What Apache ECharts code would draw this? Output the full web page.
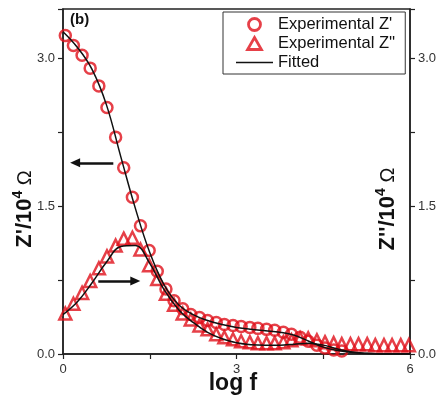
<!DOCTYPE html>
<html>
<head>
<meta charset="utf-8">
<script src="https://cdn.jsdelivr.net/npm/echarts@6/dist/echarts.min.js"></script>
<style>html,body{margin:0;padding:0;background:#fff;}#c{width:441px;height:400px;}</style>
</head>
<body>
<div id="c"></div>
<script>
// measured frequencies (log f)
const logF = [0.04,0.18,0.33,0.47,0.62,0.76,0.91,1.05,1.20,1.34,1.49,1.63,1.78,1.92,2.07,2.21,2.36,2.50,2.65,2.79,2.94,3.08,3.23,3.37,3.52,3.66,3.81,3.95,4.10,4.24,4.39,4.53,4.68,4.82,4.97,5.11,5.26,5.40,5.55,5.69,5.84,5.98];
// Experimental Z' (x10^4 ohm)
const zReal = [3.23,3.13,3.03,2.90,2.72,2.50,2.20,1.89,1.59,1.30,1.05,0.84,0.66,0.54,0.46,0.40,0.37,0.34,0.32,0.30,0.29,0.28,0.27,0.26,0.25,0.24,0.22,0.20,0.17,0.13,0.09,0.06,0.04,0.03];
// Experimental Z'' (x10^4 ohm)
const zImag = [0.41,0.51,0.62,0.74,0.87,0.99,1.10,1.17,1.18,1.06,0.90,0.76,0.61,0.50,0.41,0.35,0.29,0.25,0.20,0.17,0.15,0.13,0.12,0.11,0.11,0.11,0.12,0.14,0.16,0.16,0.14,0.12,0.11,0.10,0.10,0.10,0.10,0.09,0.09,0.09,0.09,0.09];
// fitted curves
const fitLogF = [0,0.25,0.5,0.75,1.0,1.25,1.5,1.75,2.0,2.25,2.5,2.75,3.0,3.25,3.5,3.75,4.0,4.25,4.5,4.75,5.0,5.25,5.5,5.75,6.0];
const fitReal = [3.27,3.11,2.89,2.53,2.00,1.48,1.03,0.70,0.50,0.40,0.34,0.30,0.27,0.25,0.235,0.22,0.19,0.13,0.07,0.035,0.015,0.005,0,0,0];
const fitImag = [0.40,0.53,0.72,0.93,1.09,1.10,0.92,0.65,0.45,0.32,0.22,0.155,0.115,0.095,0.09,0.09,0.10,0.11,0.09,0.05,0.02,0.008,0,0,0];
// axis ticks
const xTicks = [0,3,6];
const yTicks = [0,1.5,3.0];
// arrows (data coords): [from, to]
const arrowLeft = [[0.87,1.94],[0.21,1.94]];
const arrowRight = [[0.61,0.74],[1.25,0.74]];

const RED = '#e0101a';
const zip = (xs, ys) => ys.map((y,i)=>[xs[i], y]);
const near = (v, arr) => arr.some(t => Math.abs(t - v) < 1e-6);

const chart = echarts.init(document.getElementById('c'), null, {renderer:'canvas'});
const yAxisCommon = {
  type:'value', min:0, max:3.5, interval:0.75,
  axisLine:{show:true, lineStyle:{color:'#222', width:1.5}},
  axisTick:{show:true, inside:false, length:5, lineStyle:{color:'#222', width:1.2}},
  axisLabel:{color:'#333', fontSize:13, fontFamily:'Liberation Sans', margin:8,
    formatter: v => near(v, yTicks) ? v.toFixed(1) : ''},
  splitLine:{show:false}
};
const titleRich = {
  b:{font:'bold 22px "Liberation Sans"', fill:'#111', lineHeight:28, verticalAlign:'middle'},
  s:{font:'bold 14px "Liberation Sans"', fill:'#111', verticalAlign:'top', lineHeight:14},
  n:{font:'20px "Liberation Sans"', fill:'#111', verticalAlign:'middle'}
};
chart.setOption({
  animation:false,
  grid:{left:63, right:31, top:9, bottom:46, show:true, borderColor:'#222', borderWidth:1.5, backgroundColor:'transparent'},
  xAxis:{type:'value', min:0, max:6, interval:1.5,
    axisLine:{show:true, lineStyle:{color:'#222', width:1.5}},
    axisTick:{show:true, length:5, lineStyle:{color:'#222', width:1.2}},
    axisLabel:{color:'#333', fontSize:13, fontFamily:'Liberation Sans', margin:9,
      formatter: v => near(v, xTicks) ? String(v) : ''},
    splitLine:{show:false}},
  yAxis:[Object.assign({position:'left'}, yAxisCommon), Object.assign({position:'right'}, yAxisCommon)],
  legend:{
    orient:'vertical', left:223, top:12, itemWidth:37, itemHeight:12, itemGap:2,
    padding:[4,10,3,13], borderColor:'#333', borderWidth:1, backgroundColor:'#fff',
    symbolKeepAspect:true,
    textStyle:{fontSize:16.5, lineHeight:17, fontFamily:'Liberation Sans', color:'#111'},
    data:[
      {name:"Experimental Z'", icon:'circle', itemStyle:{color:'rgba(255,255,255,0)', borderColor:RED, borderWidth:2.8}},
      {name:"Experimental Z''", icon:'path://M6,0 L12,10.4 L0,10.4 Z', itemStyle:{color:'rgba(255,255,255,0)', borderColor:RED, borderWidth:2.8}},
      {name:'Fitted', icon:'path://M0,0 L37,0 L37,1.6 L0,1.6 Z', itemStyle:{color:'#111', borderWidth:0}}
    ]
  },
  graphic:[
    {type:'text', left:70, top:12, style:{text:'(b)', font:'bold 15px "Liberation Sans"', fill:'#111'}},
    {type:'text', x:25, y:209, rotation:Math.PI/2,
      style:{text:"{b|Z'/10}{s|4}{n| Ω}", align:'center', verticalAlign:'middle', rich:titleRich}},
    {type:'text', x:388, y:209, rotation:Math.PI/2,
      style:{text:"{b|Z''/10}{s|4}{n| Ω}", align:'center', verticalAlign:'middle', rich:titleRich}},
    {type:'text', x:233, y:384, style:{text:'log f', align:'center', verticalAlign:'middle', font:'bold 23px "Liberation Sans"', fill:'#111'}}
  ],
  series:[
    {name:"Experimental Z'", type:'scatter', yAxisIndex:0, data:zip(logF, zReal),
      symbol:'circle', symbolSize:11,
      itemStyle:{color:'rgba(255,255,255,0)', borderColor:RED, borderWidth:2.5}, z:2},
    {name:"Experimental Z''", type:'scatter', yAxisIndex:1, data:zip(logF, zImag),
      symbol:'triangle', symbolSize:12,
      itemStyle:{color:'rgba(255,255,255,0)', borderColor:RED, borderWidth:2.5}, z:2},
    {name:'Fitted', type:'line', yAxisIndex:0, data:zip(fitLogF, fitReal), smooth:0.4,
      symbol:'none', lineStyle:{color:'#111', width:1.5}, itemStyle:{color:'#111'}, z:3,
      markLine:{silent:true, symbol:['none','triangle'], symbolSize:[9,10], label:{show:false},
        lineStyle:{color:'#111', width:2.5, type:'solid'},
        data:[[{coord:arrowLeft[0]},{coord:arrowLeft[1]}],[{coord:arrowRight[0]},{coord:arrowRight[1]}]]}},
    {name:'Fitted', type:'line', yAxisIndex:1, data:zip(fitLogF, fitImag), smooth:0.4,
      symbol:'none', lineStyle:{color:'#111', width:1.5}, itemStyle:{color:'#111'}, z:3}
  ]
});
</script>
</body>
</html>
